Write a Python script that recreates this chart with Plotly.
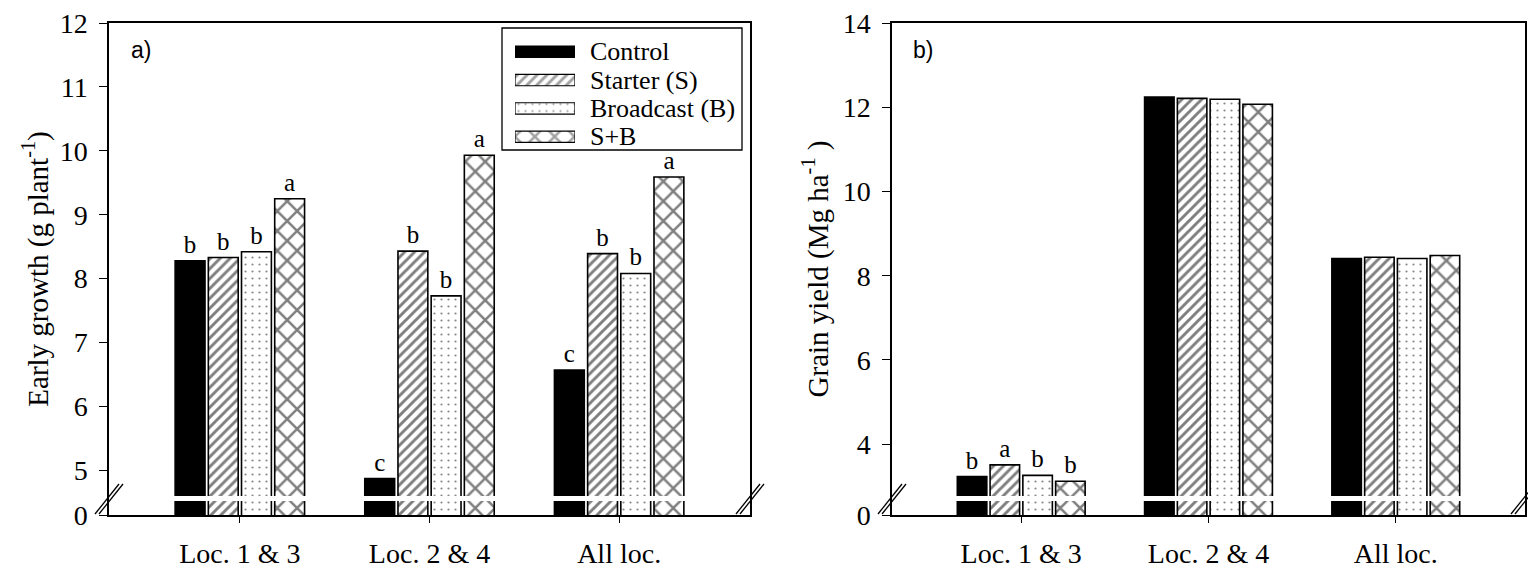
import plotly.graph_objects as go

# ---------------- data ----------------
categories = ["Loc. 1 & 3", "Loc. 2 & 4", "All loc."]
treatments = ["Control", "Starter (S)", "Broadcast (B)", "S+B"]

growth_control = [8.28, 4.87, 6.57]
growth_starter = [8.33, 8.43, 8.39]
growth_broadcast = [8.42, 7.73, 8.08]
growth_sb = [9.25, 9.93, 9.59]

growth_letters_control = ["b", "c", "c"]
growth_letters_starter = ["b", "b", "b"]
growth_letters_broadcast = ["b", "b", "b"]
growth_letters_sb = ["a", "a", "a"]

yield_control = [3.23, 12.24, 8.41]
yield_starter = [3.51, 12.21, 8.44]
yield_broadcast = [3.26, 12.19, 8.41]
yield_sb = [3.12, 12.07, 8.48]

yield_letters_control = ["b", "", ""]
yield_letters_starter = ["a", "", ""]
yield_letters_broadcast = ["b", "", ""]
yield_letters_sb = ["b", "", ""]

growth_ticks = [5, 6, 7, 8, 9, 10, 11, 12]
yield_ticks = [4, 6, 8, 10, 12, 14]
growth_axis_break = 4.30   # axis value drawn as "0" (broken axis)
yield_axis_break = 2.32

# ---------------- styles ----------------
SERIF = "Liberation Serif"
SANS = "Liberation Sans"
W, H = 1528, 568

styles = [
    dict(color="black", pattern=dict(shape="")),
    dict(color="white", pattern=dict(shape="/", size=7, solidity=0.42,
                                      fgcolor="black", bgcolor="white")),
    dict(color="white", pattern=dict(shape=".", size=7, solidity=0.08,
                                      fgcolor="#111111", bgcolor="white")),
    dict(color="white", pattern=dict(shape="x", size=14, solidity=0.33,
                                      fgcolor="black", bgcolor="white")),
]

growth_series = [growth_control, growth_starter, growth_broadcast, growth_sb]
growth_letters = [growth_letters_control, growth_letters_starter,
                  growth_letters_broadcast, growth_letters_sb]
yield_series = [yield_control, yield_starter, yield_broadcast, yield_sb]
yield_letters = [yield_letters_control, yield_letters_starter,
                 yield_letters_broadcast, yield_letters_sb]

fig = go.Figure()

def add_bars(series, letters, xa, ya):
    for name, vals, txt, st in zip(treatments, series, letters, styles):
        fig.add_trace(go.Bar(
            x=categories, y=vals, name=name, text=txt,
            textposition="outside", cliponaxis=False, constraintext="none",
            textfont=dict(family=SERIF, size=25, color="black"),
            marker=dict(color=st["color"], pattern=st["pattern"],
                        line=dict(color="black", width=1.6)),
            xaxis=xa, yaxis=ya, showlegend=False, hoverinfo="x+y+name",
        ))

add_bars(growth_series, growth_letters, "x", "y")
add_bars(yield_series, yield_letters, "x2", "y2")

# custom legend (keys drawn as bars on a small hidden subplot)
legend_pos = list(range(len(treatments)))
fig.add_trace(go.Bar(
    y=legend_pos, x=[1] * len(treatments), orientation="h", width=0.40,
    marker=dict(color=[s["color"] for s in styles],
                pattern=dict(shape=[s["pattern"]["shape"] for s in styles],
                             size=[s["pattern"].get("size", 8) for s in styles],
                             solidity=[s["pattern"].get("solidity", 0.3) for s in styles],
                             fgcolor=[s["pattern"].get("fgcolor", "black") for s in styles],
                             bgcolor=[s["pattern"].get("bgcolor", "black") for s in styles]),
                line=dict(color="black", width=1.2)),
    xaxis="x3", yaxis="y3", showlegend=False, hoverinfo="skip",
))

ydom = [53 / H, 545 / H]
axis_common = dict(showline=True, linecolor="black", linewidth=1.5, mirror=True,
                   ticks="outside", tickcolor="black", tickwidth=1.3,
                   showgrid=False, zeroline=False, automargin=False,
                   tickfont=dict(family=SERIF, size=28, color="black"))

xcat = dict(axis_common, type="category", range=[-0.69, 2.69], ticklen=6,
            ticklabelstandoff=7)

fig.update_layout(
    width=W, height=H, margin=dict(l=0, r=0, t=0, b=0),
    paper_bgcolor="white", plot_bgcolor="white",
    barmode="group", bargap=0.30, bargroupgap=0.10,
    xaxis=dict(xcat, domain=[109 / W, 750 / W], anchor="y"),
    xaxis2=dict(xcat, domain=[892 / W, 1525 / W], anchor="y2"),
    yaxis=dict(axis_common, domain=ydom, anchor="x",
               range=[growth_axis_break, 12], ticklen=8,
               tickvals=[growth_axis_break] + growth_ticks,
               ticktext=["0"] + [str(t) for t in growth_ticks],
               ticklabelstandoff=6,
               title=dict(text="Early growth (g plant<sup>-1</sup>)",
                          font=dict(family=SERIF, size=29, color="black"),
                          standoff=3)),
    yaxis2=dict(axis_common, domain=ydom, anchor="x2",
                range=[yield_axis_break, 14], ticklen=8,
                tickvals=[yield_axis_break] + yield_ticks,
                ticktext=["0"] + [str(t) for t in yield_ticks],
                ticklabelstandoff=6,
                title=dict(text="Grain yield (Mg ha<sup>-1</sup> )",
                           font=dict(family=SERIF, size=29, color="black"),
                           standoff=6)),
    xaxis3=dict(domain=[515 / W, 575 / W], range=[0, 1], visible=False,
                anchor="y3", fixedrange=True),
    yaxis3=dict(domain=[1 - 150.9 / H, 1 - 37.6 / H], range=[3.5, -0.5],
                visible=False, anchor="x3", fixedrange=True),
    font=dict(family=SERIF, color="black"),
)

# legend texts and frame
for i, name in zip(legend_pos, treatments):
    fig.add_annotation(x=588 / W, xref="paper", y=i, yref="y3", text=name,
                       showarrow=False, xanchor="left", yanchor="middle",
                       font=dict(family=SERIF, size=26, color="black"))
fig.add_shape(type="rect", xref="paper", yref="paper",
              x0=502 / W, x1=742 / W, y0=1 - 150 / H, y1=1 - 28 / H,
              line=dict(color="black", width=1.3), fillcolor="rgba(0,0,0,0)")

# panel labels
fig.add_annotation(x=129 / W, y=1 - 50 / H, xref="paper", yref="paper", text="a)",
                   showarrow=False, xanchor="left", yanchor="middle",
                   font=dict(family=SANS, size=23, color="black"))
fig.add_annotation(x=911 / W, y=1 - 50 / H, xref="paper", yref="paper", text="b)",
                   showarrow=False, xanchor="left", yanchor="middle",
                   font=dict(family=SANS, size=23, color="black"))

# axis-break gap across the bars and "//" marks
for xr, yr in [("x", "y"), ("x2", "y2")]:
    fig.add_shape(type="rect", xref=f"{xr} domain", yref=f"{yr} domain",
                  x0=0.004, x1=0.996, y0=14 / 492, y1=19 / 492,
                  fillcolor="white", line=dict(width=0), layer="above")
    for xa in (0, 1):
        for dx in (0, 4):
            fig.add_shape(type="line", xref=f"{xr} domain", yref=f"{yr} domain",
                          xsizemode="pixel", ysizemode="pixel",
                          xanchor=xa, yanchor=0,
                          x0=-14 + dx, y0=1, x1=10 + dx, y1=31,
                          line=dict(color="black", width=1.3), layer="above")

fig.write_html("out.html")
